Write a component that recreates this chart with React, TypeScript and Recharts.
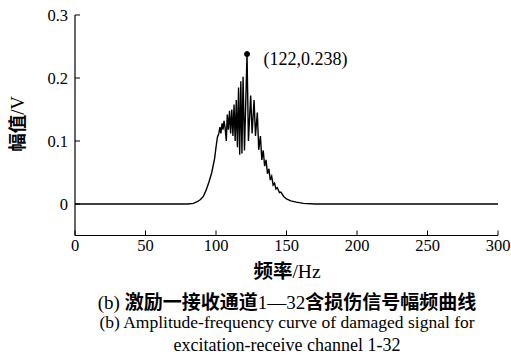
import React from 'react';
import { LineChart, Line, XAxis, YAxis, ReferenceDot } from 'recharts';

const freqs: number[] = [0, 80, 84, 87, 89, 91, 93, 95, 97, 99, 100, 101, 102, 102.8, 103.5, 104.3, 105, 105.7, 106.5, 107.3, 108, 108.8, 109.6, 110.4, 111.2, 112, 112.8, 113.6, 114.4, 115.2, 116, 116.8, 117.6, 118.4, 119.2, 120.2, 122, 123, 124.6, 125.6, 127, 128, 129.3, 130.3, 131.5, 132.5, 133.5, 134.5, 135.5, 136.5, 137.5, 138.5, 139.5, 140.5, 141.5, 142.5, 143.5, 145, 146, 148, 150, 153, 157, 162, 170, 300];
const amps: number[] = [0, 0, 0.001, 0.004, 0.007, 0.012, 0.022, 0.035, 0.05, 0.072, 0.09, 0.106, 0.112, 0.122, 0.112, 0.128, 0.118, 0.132, 0.12, 0.1, 0.142, 0.118, 0.148, 0.112, 0.15, 0.108, 0.158, 0.1, 0.165, 0.09, 0.185, 0.078, 0.195, 0.08, 0.202, 0.085, 0.238, 0.1, 0.172, 0.112, 0.165, 0.108, 0.145, 0.086, 0.108, 0.07, 0.085, 0.06, 0.07, 0.048, 0.056, 0.038, 0.044, 0.03, 0.033, 0.024, 0.026, 0.018, 0.019, 0.012, 0.008, 0.005, 0.003, 0.001, 0, 0];

const xTicks: number[] = [0, 50, 100, 150, 200, 250, 300];
const yTicks: number[] = [0, 0.1, 0.2, 0.3];
const peak = { f: 122, v: 0.238, label: '(122,0.238)' };

const xTitleCn = '频率';
const xTitleUnit = '/Hz';
const yTitleCn = '幅值';
const yTitleUnit = '/V';
const captionParts: { t: string; cn: boolean }[] = [
  { t: '(b) ', cn: false },
  { t: '激励一接收通道', cn: true },
  { t: '1—32', cn: false },
  { t: '含损伤信号幅频曲线', cn: true },
];
const captionEn1 = '(b) Amplitude-frequency curve of damaged signal for';
const captionEn2 = 'excitation-receive channel 1-32';

const data = freqs.map((f, i) => ({ f, v: amps[i] }));

const serif = '"Liberation Serif", "Times New Roman", "Noto Sans CJK SC", serif';
const cjk = '"Noto Sans CJK SC", sans-serif';

const YTick = (props: any) => {
  const { x, y, payload } = props;
  return (
    <g>
      <line x1={x + 7} x2={x + 12} y1={y} y2={y} stroke="#000" strokeWidth={1} />
      <text x={x} y={y} textAnchor="end" dominantBaseline="central" fontSize={16.5} fontFamily={serif} fill="#000">
        {String(payload.value)}
      </text>
    </g>
  );
};

const XTick = (props: any) => {
  const { x, y, payload } = props;
  return (
    <g>
      <line x1={x} x2={x} y1={y} y2={y - 5} stroke="#000" strokeWidth={1} />
      <text x={x} y={y + 15} textAnchor="middle" fontSize={16.5} fontFamily={serif} fill="#000">
        {String(payload.value)}
      </text>
    </g>
  );
};

export default function App() {
  return (
    <div style={{ position: 'absolute', left: 0, top: 0, width: 511, height: 356, background: '#fff', fontFamily: serif, color: '#000', overflow: 'hidden' }}>
      <LineChart width={511} height={280} data={data} margin={{ top: 15, right: 13, left: 0, bottom: 14.5 }}>
        <XAxis
          dataKey="f"
          type="number"
          domain={[0, 300]}
          ticks={xTicks}
          tickSize={0}
          tickMargin={0}
          tick={<XTick />}
          axisLine={{ stroke: '#000', strokeWidth: 1.2 }}
          tickLine={false}
          height={30}
          interval={0}
        />
        <YAxis
          type="number"
          domain={[-0.05, 0.3]}
          ticks={yTicks}
          tickSize={0}
          tickMargin={7}
          tick={<YTick />}
          axisLine={{ stroke: '#000', strokeWidth: 1.2 }}
          tickLine={false}
          width={75}
          interval={0}
          allowDataOverflow
        />
        <Line dataKey="v" type="linear" stroke="#000" strokeWidth={1.4} dot={false} isAnimationActive={false} />
        <ReferenceDot
          x={peak.f}
          y={peak.v}
          r={2.5}
          fill="#000"
          stroke="#000"
          label={{ value: peak.label, position: 'right', offset: 14, fontSize: 18, fontFamily: serif, fill: '#000', dy: 5 }}
        />
      </LineChart>
      <div style={{ position: 'absolute', left: 17, top: 124, transform: 'translate(-50%, -50%) rotate(-90deg)', whiteSpace: 'nowrap', fontSize: 18.5, lineHeight: '20px' }}>
        <span style={{ fontFamily: cjk, fontWeight: 'bold' }}>{yTitleCn}</span>
        <span>{yTitleUnit}</span>
      </div>
      <div style={{ position: 'absolute', left: 0, width: 574, top: 259, textAlign: 'center', fontSize: 19.5, lineHeight: '22px', whiteSpace: 'nowrap' }}>
        <span style={{ fontFamily: cjk, fontWeight: 'bold' }}>{xTitleCn}</span>
        <span>{xTitleUnit}</span>
      </div>
      <div style={{ position: 'absolute', left: 0, width: 574, top: 290, textAlign: 'center', fontSize: 19, lineHeight: '22px', whiteSpace: 'nowrap' }}>
        {captionParts.map((p, i) => (
          <span key={i} style={p.cn ? { fontFamily: cjk, fontWeight: 'bold' } : undefined}>{p.t}</span>
        ))}
      </div>
      <div style={{ position: 'absolute', left: 0, width: 574, top: 312, textAlign: 'center', fontSize: 17.5, lineHeight: '20px', whiteSpace: 'nowrap' }}>
        {captionEn1}
      </div>
      <div style={{ position: 'absolute', left: 0, width: 574, top: 335, textAlign: 'center', fontSize: 18, lineHeight: '20px', whiteSpace: 'nowrap' }}>
        {captionEn2}
      </div>
    </div>
  );
}
